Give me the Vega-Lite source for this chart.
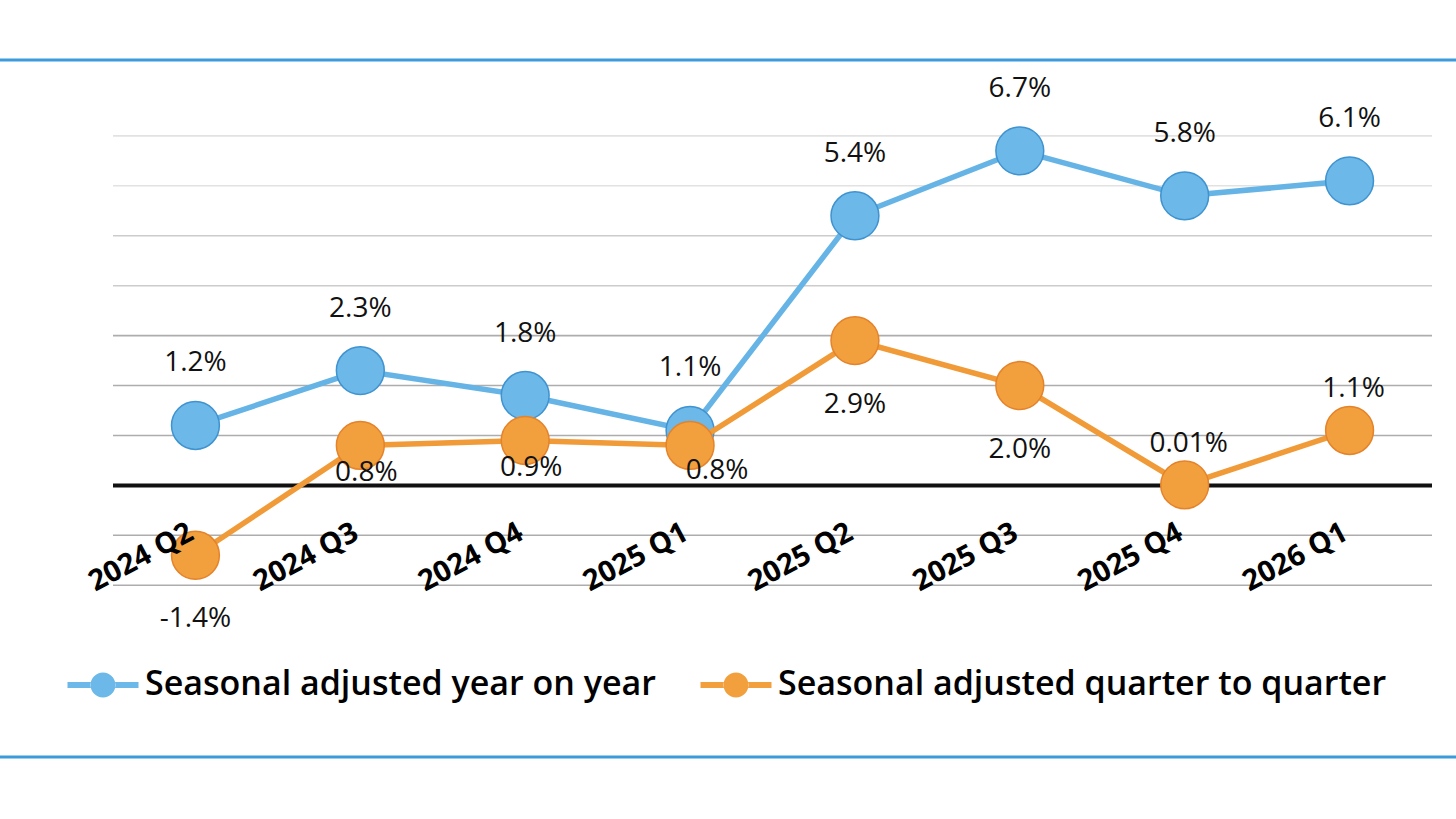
{
  "$schema": "https://vega.github.io/schema/vega-lite/v6.json",
  "width": 1456,
  "height": 697,
  "autosize": {"type": "none"},
  "padding": {"left": 0, "right": 0, "top": 60, "bottom": 62},
  "background": "white",
  "config": {"view": {"stroke": null}, "font": "Open Sans"},
  "datasets": {
    "growth": [
      {"quarter": "2024 Q2", "series": "Seasonal adjusted year on year", "value": 1.2},
      {"quarter": "2024 Q3", "series": "Seasonal adjusted year on year", "value": 2.3},
      {"quarter": "2024 Q4", "series": "Seasonal adjusted year on year", "value": 1.8},
      {"quarter": "2025 Q1", "series": "Seasonal adjusted year on year", "value": 1.1},
      {"quarter": "2025 Q2", "series": "Seasonal adjusted year on year", "value": 5.4},
      {"quarter": "2025 Q3", "series": "Seasonal adjusted year on year", "value": 6.7},
      {"quarter": "2025 Q4", "series": "Seasonal adjusted year on year", "value": 5.8},
      {"quarter": "2026 Q1", "series": "Seasonal adjusted year on year", "value": 6.1},
      {"quarter": "2024 Q2", "series": "Seasonal adjusted quarter to quarter", "value": -1.4},
      {"quarter": "2024 Q3", "series": "Seasonal adjusted quarter to quarter", "value": 0.8},
      {"quarter": "2024 Q4", "series": "Seasonal adjusted quarter to quarter", "value": 0.9},
      {"quarter": "2025 Q1", "series": "Seasonal adjusted quarter to quarter", "value": 0.8},
      {"quarter": "2025 Q2", "series": "Seasonal adjusted quarter to quarter", "value": 2.9},
      {"quarter": "2025 Q3", "series": "Seasonal adjusted quarter to quarter", "value": 2.0},
      {"quarter": "2025 Q4", "series": "Seasonal adjusted quarter to quarter", "value": 0.01},
      {"quarter": "2026 Q1", "series": "Seasonal adjusted quarter to quarter", "value": 1.1}
    ],
    "grid": [
      {"v": -2}, {"v": -1}, {"v": 1}, {"v": 2}, {"v": 3},
      {"v": 4}, {"v": 5}, {"v": 6}, {"v": 7}
    ]
  },
  "data": {"name": "growth"},
  "transform": [
    {"calculate": "(datum.value < 0 ? '-' : '') + format(abs(datum.value), abs(datum.value) < 0.1 ? '.2f' : '.1f') + '%'", "as": "label"}
  ],
  "layer": [
    {
      "data": {"name": "grid"},
      "mark": {"type": "rule", "strokeWidth": 1.6},
      "encoding": {
        "y": {"field": "v", "type": "quantitative", "scale": {"domain": [-5.44, 8.52], "nice": false, "zero": false}, "axis": null},
        "x": {
          "datum": "2024 Q2", "type": "nominal", "bandPosition": 0,
          "scale": {
            "type": "band",
            "domain": ["2024 Q2", "2024 Q3", "2024 Q4", "2025 Q1", "2025 Q2", "2025 Q3", "2025 Q4", "2026 Q1"],
            "paddingInner": 0, "paddingOuter": 0.4155, "align": 0.8248
          },
          "axis": {
            "orient": "bottom", "domain": false, "ticks": false, "grid": false, "title": null,
            "labelAngle": -28, "labelAlign": "right", "labelBaseline": "alphabetic",
            "labelPadding": -219, "labelFontSize": 29, "labelFontWeight": "bold",
            "labelFont": "Open Sans", "labelColor": "#000000",
            "labelOverlap": false, "labelBound": false, "labelFlush": false, "zindex": 1
          }
        },
        "x2": {"datum": "2026 Q1", "bandPosition": 1},
        "color": {
          "condition": [
            {"test": "datum.v >= 6", "value": "#e2e2e2"},
            {"test": "datum.v >= 4", "value": "#cccccc"}
          ],
          "value": "#adadad"
        }
      }
    },
    {
      "data": {"values": [{}]},
      "mark": {"type": "rule", "color": "#111111", "strokeWidth": 4},
      "encoding": {
        "y": {"datum": 0, "type": "quantitative", "axis": null},
        "x": {
          "datum": "2024 Q2", "type": "nominal", "bandPosition": 0,
          "axis": {
            "orient": "bottom", "domain": false, "ticks": false, "grid": false, "title": null,
            "labelAngle": -28, "labelAlign": "right", "labelBaseline": "alphabetic",
            "labelPadding": -219, "labelFontSize": 29, "labelFontWeight": "bold",
            "labelFont": "Open Sans", "labelColor": "#000000",
            "labelOverlap": false, "labelBound": false, "labelFlush": false, "zindex": 1
          }
        },
        "x2": {"datum": "2026 Q1", "bandPosition": 1}
      }
    },
    {
      "data": {"values": [{}]},
      "mark": {"type": "rule", "color": "#3b9bdb", "strokeWidth": 3},
      "encoding": {"y": {"datum": 8.52, "type": "quantitative", "axis": null}}
    },
    {
      "data": {"values": [{}]},
      "mark": {"type": "rule", "color": "#3b9bdb", "strokeWidth": 3},
      "encoding": {"y": {"datum": -5.44, "type": "quantitative", "axis": null}}
    },
    {
      "transform": [{"filter": "datum.series === 'Seasonal adjusted year on year'"}],
      "mark": {"type": "line", "strokeWidth": 5.5, "color": "#66b4e6"},
      "encoding": {
        "x": {
          "field": "quarter", "type": "nominal",
          "axis": {
            "orient": "bottom", "domain": false, "ticks": false, "grid": false, "title": null,
            "labelAngle": -28, "labelAlign": "right", "labelBaseline": "alphabetic",
            "labelPadding": -219, "labelFontSize": 29, "labelFontWeight": "bold",
            "labelFont": "Open Sans", "labelColor": "#000000",
            "labelOverlap": false, "labelBound": false, "labelFlush": false, "zindex": 1
          }
        },
        "y": {"field": "value", "type": "quantitative", "axis": null}
      }
    },
    {
      "transform": [{"filter": "datum.series === 'Seasonal adjusted year on year'"}],
      "mark": {"type": "point", "filled": true, "size": 2290, "stroke": "#3f93d0", "strokeWidth": 1.5, "opacity": 1},
      "encoding": {
        "x": {
          "field": "quarter", "type": "nominal",
          "axis": {
            "orient": "bottom", "domain": false, "ticks": false, "grid": false, "title": null,
            "labelAngle": -28, "labelAlign": "right", "labelBaseline": "alphabetic",
            "labelPadding": -219, "labelFontSize": 29, "labelFontWeight": "bold",
            "labelFont": "Open Sans", "labelColor": "#000000",
            "labelOverlap": false, "labelBound": false, "labelFlush": false, "zindex": 1
          }
        },
        "y": {"field": "value", "type": "quantitative", "axis": null},
        "color": {
          "field": "series", "type": "nominal",
          "scale": {
            "domain": ["Seasonal adjusted year on year", "Seasonal adjusted quarter to quarter"],
            "range": ["#6cb8e8", "#f2a03e"]
          },
          "legend": {
            "orient": "none", "legendX": 86, "legendY": 608, "direction": "horizontal",
            "title": null, "padding": 0,
            "symbolType": "M-2.84,-0.24H-0.97V0.24H-2.84Z M0.97,-0.24H2.84V0.24H0.97Z M-1,0A1,1 0 1,0 1,0A1,1 0 1,0 -1,0Z",
            "symbolSize": 625, "symbolStrokeWidth": 0,
            "labelFont": "Open Sans", "labelFontSize": 34, "labelFontWeight": 600,
            "labelColor": "#000000", "labelOffset": 25, "labelLimit": 1000,
            "columnPadding": 44
          }
        }
      }
    },
    {
      "transform": [{"filter": "datum.series === 'Seasonal adjusted quarter to quarter'"}],
      "mark": {"type": "line", "strokeWidth": 5.5, "color": "#f09a38"},
      "encoding": {
        "x": {
          "field": "quarter", "type": "nominal",
          "axis": {
            "orient": "bottom", "domain": false, "ticks": false, "grid": false, "title": null,
            "labelAngle": -28, "labelAlign": "right", "labelBaseline": "alphabetic",
            "labelPadding": -219, "labelFontSize": 29, "labelFontWeight": "bold",
            "labelFont": "Open Sans", "labelColor": "#000000",
            "labelOverlap": false, "labelBound": false, "labelFlush": false, "zindex": 1
          }
        },
        "y": {"field": "value", "type": "quantitative", "axis": null}
      }
    },
    {
      "transform": [{"filter": "datum.series === 'Seasonal adjusted quarter to quarter'"}],
      "mark": {"type": "point", "filled": true, "size": 2290, "stroke": "#e5832a", "strokeWidth": 1.5, "opacity": 1},
      "encoding": {
        "x": {
          "field": "quarter", "type": "nominal",
          "axis": {
            "orient": "bottom", "domain": false, "ticks": false, "grid": false, "title": null,
            "labelAngle": -28, "labelAlign": "right", "labelBaseline": "alphabetic",
            "labelPadding": -219, "labelFontSize": 29, "labelFontWeight": "bold",
            "labelFont": "Open Sans", "labelColor": "#000000",
            "labelOverlap": false, "labelBound": false, "labelFlush": false, "zindex": 1
          }
        },
        "y": {"field": "value", "type": "quantitative", "axis": null},
        "color": {"field": "series", "type": "nominal"}
      }
    },
    {
      "transform": [{"filter": "datum.series === 'Seasonal adjusted year on year'"}],
      "mark": {"type": "text", "fontSize": 28, "font": "Open Sans", "color": "#111111", "baseline": "middle", "dy": -62},
      "encoding": {
        "x": {"field": "quarter", "type": "nominal"},
        "y": {"field": "value", "type": "quantitative", "axis": null},
        "text": {"field": "label"}
      }
    },
    {
      "transform": [
        {"filter": "datum.series === 'Seasonal adjusted quarter to quarter'"},
        {"filter": {"field": "quarter", "oneOf": ["2024 Q2", "2025 Q2", "2025 Q3"]}}
      ],
      "mark": {"type": "text", "fontSize": 28, "font": "Open Sans", "color": "#111111", "baseline": "middle", "dy": 64},
      "encoding": {
        "x": {"field": "quarter", "type": "nominal"},
        "y": {"field": "value", "type": "quantitative", "axis": null},
        "text": {"field": "label"}
      }
    },
    {
      "transform": [
        {"filter": "datum.series === 'Seasonal adjusted quarter to quarter'"},
        {"filter": {"field": "quarter", "oneOf": ["2024 Q3", "2024 Q4"]}}
      ],
      "mark": {"type": "text", "fontSize": 28, "font": "Open Sans", "color": "#111111", "baseline": "middle", "dy": 28, "dx": 6},
      "encoding": {
        "x": {"field": "quarter", "type": "nominal"},
        "y": {"field": "value", "type": "quantitative", "axis": null},
        "text": {"field": "label"}
      }
    },
    {
      "transform": [
        {"filter": "datum.series === 'Seasonal adjusted quarter to quarter'"},
        {"filter": {"field": "quarter", "oneOf": ["2025 Q1"]}}
      ],
      "mark": {"type": "text", "fontSize": 28, "font": "Open Sans", "color": "#111111", "baseline": "middle", "dy": 26, "dx": 27},
      "encoding": {
        "x": {"field": "quarter", "type": "nominal"},
        "y": {"field": "value", "type": "quantitative", "axis": null},
        "text": {"field": "label"}
      }
    },
    {
      "transform": [
        {"filter": "datum.series === 'Seasonal adjusted quarter to quarter'"},
        {"filter": {"field": "quarter", "oneOf": ["2025 Q4", "2026 Q1"]}}
      ],
      "mark": {"type": "text", "fontSize": 28, "font": "Open Sans", "color": "#111111", "baseline": "middle", "dy": -41, "dx": 4},
      "encoding": {
        "x": {"field": "quarter", "type": "nominal"},
        "y": {"field": "value", "type": "quantitative", "axis": null},
        "text": {"field": "label"}
      }
    }
  ]
}
